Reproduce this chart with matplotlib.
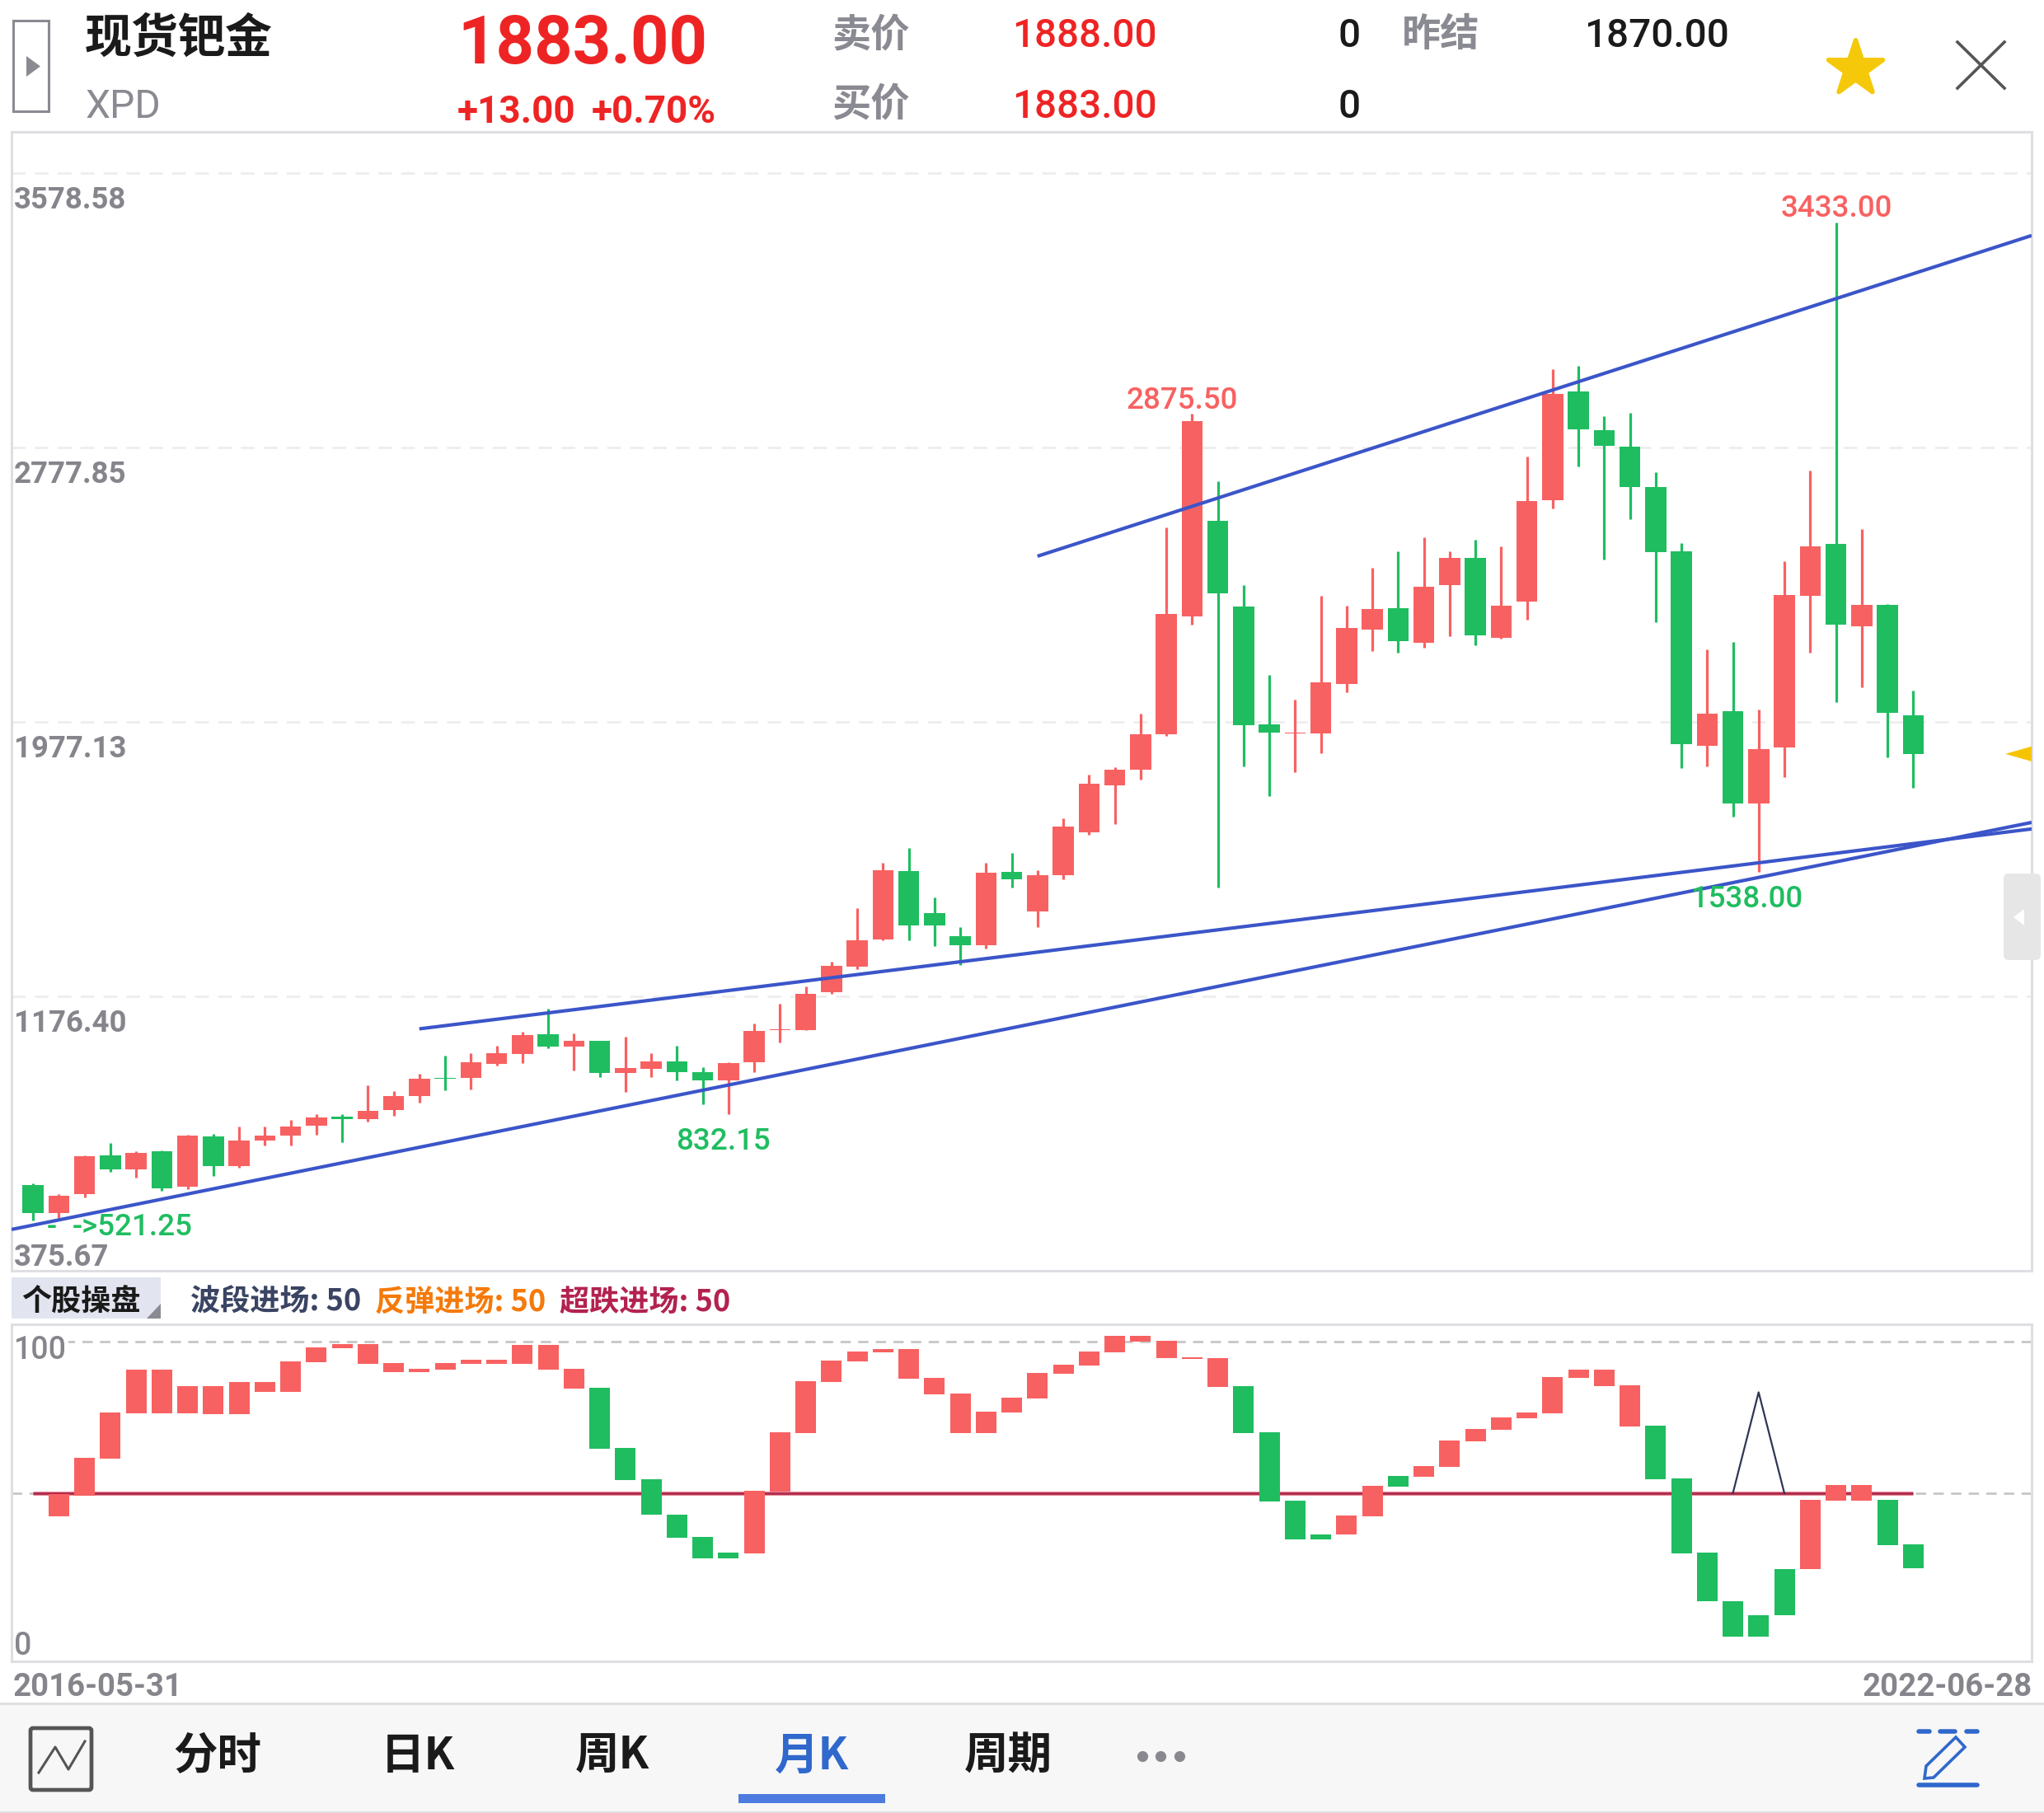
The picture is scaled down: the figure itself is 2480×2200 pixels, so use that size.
import matplotlib
matplotlib.use("Agg")
import matplotlib.pyplot as plt
from matplotlib.patches import Rectangle, Polygon, FancyBboxPatch

plt.rcParams['font.family'] = ['Noto Sans CJK SC', 'DejaVu Sans']

# monthly candles, 2016-05 .. 2022-06
opens = [625, 544, 597, 711, 670, 723, 619, 766, 679, 754, 768, 797, 825, 817, 844, 884, 938, 937, 978, 1007,
         1064, 1028, 1046, 952, 964, 985, 953, 929, 983, 1076, 1077, 1187, 1262, 1342, 1541, 1418, 1351, 1324, 1539, 1422,
         1530, 1653, 1791, 1838, 1940, 2284, 2563, 2312, 1970, 1942, 1942, 2088, 2246, 2309, 2207, 2376, 2455, 2222, 2328, 2623,
         2941, 2829, 2780, 2662, 2475, 1906, 2007, 1738, 1902, 2345, 2496, 2256, 2317, 1995]
closes = [543, 594, 708, 670, 718, 616, 768, 679, 754, 768, 795, 823, 817, 840, 884, 934, 935, 983, 1009, 1062,
          1028, 1045, 952, 965, 986, 953, 929, 980, 1074, 1079, 1182, 1265, 1340, 1544, 1382, 1382, 1324, 1536, 1517, 1529,
          1672, 1795, 1838, 1940, 2291, 2854, 2352, 1967, 1945, 1946, 2091, 2251, 2306, 2211, 2372, 2455, 2230, 2315, 2621, 2934,
          2831, 2781, 2661, 2473, 1911, 2001, 1738, 1898, 2346, 2489, 2260, 2317, 2003, 1883]
highs = [629, 599, 712, 747, 724, 725, 772, 773, 795, 795, 814, 831, 831, 916, 898, 949, 1002, 1009, 1031, 1072,
         1139, 1067, 1046, 1058, 1009, 1031, 968, 984, 1096, 1154, 1204, 1277, 1433, 1566, 1609, 1463, 1378, 1564, 1594, 1544,
         1694, 1822, 1843, 2000, 2545, 2875.5, 2679, 2375, 2113, 2041, 2344, 2315, 2427, 2475, 2515, 2475, 2507, 2488, 2752, 3007,
         3016, 2868, 2879, 2706, 2498, 2189, 2209, 2013, 2446, 2710, 3433, 2539, 2321, 2069]
lows = [521.25, 528, 588, 664, 646, 608, 612, 651, 676, 739, 739, 771, 749, 809, 826, 865, 901, 903, 973, 980,
        1023, 959, 940, 896, 940, 929, 860, 832.15, 953, 1040, 1076, 1183, 1256, 1339, 1339, 1321, 1268, 1314, 1493, 1377,
        1517, 1648, 1678, 1809, 1935, 2261, 1493, 1846, 1760, 1830, 1886, 2064, 2184, 2178, 2193, 2227, 2200, 2219, 2275, 2600,
        2722, 2451, 2567, 2268, 1841, 1847, 1700, 1538, 1815, 2178, 2034, 2078, 1873, 1785]

price_ticks = [3578.58, 2777.85, 1977.13, 1176.40]
price_labels = ['3578.58', '2777.85', '1977.13', '1176.40']
price_bottom = 375.67
last_price = 1883.00

# hand drawn trend lines: (start candle, start price, end candle, end price)
trend_x = [[-0.83, 77.6], [15.0, 77.6], [39.0, 77.6]]
trend_y = [[495, 1683], [1080.5, 1664], [2460, 3396]]

# lower panel, starts at the second candle
sub_top = [49.6, 61.6, 76.6, 90.7, 90.7, 85.3, 85.3, 86.6, 86.6, 93.4, 98, 99.1, 99.1, 92.9, 91, 92.9, 93.9, 93.9, 98.8, 98.8,
           91, 84.7, 64.9, 54.6, 42.9, 35.6, 30.5, 50.8, 70.1, 86.9, 93.7, 96.7, 97.5, 97.5, 88, 82.8, 76.9, 81.5, 89.6, 92.3,
           96.7, 101.8, 101.8, 100.2, 94.8, 94.5, 85.3, 70.1, 47.6, 36.4, 42.7, 52.4, 55.7, 59, 67.4, 71.2, 75, 76.6, 88.2, 90.7,
           90.7, 85.5, 72.2, 54.9, 30.5, 14.5, 9.9, 25, 47.8, 52.7, 52.7, 47.8, 33.2]
sub_bottom = [42.4, 49.3, 61.5, 76.4, 76.4, 76.4, 76.1, 76.1, 83.5, 83.5, 93.2, 97.7, 92.7, 90, 90, 90.7, 92.7, 92.7, 92.7, 90.7,
              84.5, 64.7, 54.3, 42.8, 35.4, 28.4, 28.4, 30.3, 50.5, 69.9, 86.7, 93.5, 96.5, 87.8, 82.5, 69.9, 69.9, 76.7, 81.3, 89.4,
              92.1, 96.5, 99.9, 94.6, 94.2, 85, 69.9, 47.4, 34.9, 34.9, 36.3, 42.5, 52.3, 55.5, 58.8, 67.1, 71, 74.8, 76.4, 88.1,
              85.4, 72.1, 54.7, 30.3, 14.3, 2.6, 2.6, 9.7, 24.9, 47.6, 47.6, 33, 25.4]
sub_dir = 'R' * 21 + 'G' * 6 + 'R' * 19 + 'G' * 4 + 'RR' + 'G' + 'R' * 9 + 'G' * 6 + 'RRR' + 'GG'
sub_mid = 50
spike_x = [66, 67, 68]
spike_y = [50, 83.3, 50]

tabs = ['分时', '日K', '周K', '月K', '周期']

RED = '#f86161'
GREEN = '#1fbd60'
BLUE = '#3b55c9'
GREY = '#85858c'
FRAME = '#dedee3'
QUOTE_RED = '#ee2424'
INK = '#1a1a1a'
W, H = 2480, 2200


def axes_px(left, top, right, bottom):
    return fig.add_axes([left / W, 1 - bottom / H, (right - left) / W, (bottom - top) / H])


def style_frame(ax):
    ax.set_xticks([])
    ax.set_yticks([])
    for s in ax.spines.values():
        s.set_color(FRAME)
        s.set_linewidth(2.2)


def txt(x, y, s, size, color, weight='normal', ha='left', num=False, **kw):
    if num:
        kw['family'] = ['Roboto', 'Noto Sans CJK SC']
    over.text(x, y, s, fontsize=size, color=color, fontweight=weight, ha=ha, va='baseline', **kw)


fig = plt.figure(figsize=(W / 100, H / 100), dpi=100, facecolor='white')

# price panel
ax = axes_px(14, 160, 2465, 1541.5)
style_frame(ax)
ax.set_xlim(-0.832, 77.6)
ax.set_ylim(price_bottom, 3698.6)
ax.hlines(price_ticks, -0.832, 77.6, color='#eeeeee', lw=2, linestyle=(0, (6, 4)), zorder=1)
for i in range(len(opens)):
    c = RED if closes[i] >= opens[i] else GREEN
    ax.vlines(i, lows[i], highs[i], color=c, lw=2.3, zorder=2)
    ax.bar(i, abs(closes[i] - opens[i]), bottom=min(opens[i], closes[i]), width=0.816, color=c, linewidth=0, zorder=3)
for tx, ty in zip(trend_x, trend_y):
    ax.plot(tx, ty, color=BLUE, lw=3, solid_capstyle='butt', zorder=4)
for p, lab in zip(price_ticks, price_labels):
    ax.annotate(lab, xy=(0, p), xycoords=('axes fraction', 'data'), xytext=(2, -31), textcoords='offset points',
                fontsize=26.4, color=GREY, fontweight='bold', va='baseline', family=['Roboto', 'Noto Sans CJK SC'])
ax.annotate('375.67', xy=(0, price_bottom), xycoords=('axes fraction', 'data'), xytext=(2, 4), textcoords='offset points',
            fontsize=26.4, color=GREY, fontweight='bold', va='baseline', family=['Roboto', 'Noto Sans CJK SC'])
# current price marker at the right edge
ax.add_patch(Polygon([(76.58, last_price), (77.6, last_price + 22), (77.6, last_price - 22)], closed=True,
                     facecolor='#f5c400', edgecolor='none', zorder=5))

# lower panel
sub = axes_px(14, 1607, 2465, 2016)
style_frame(sub)
sub.set_xlim(-0.832, 77.6)
sub.set_ylim(-5.43, 105.7)
sub.hlines([100, sub_mid], -0.832, 77.6, color='#c6c6c6', lw=2, linestyle=(0, (4.5, 3.2)), zorder=1)
sub.plot([0, 73], [sub_mid, sub_mid], color='#e58a9c', lw=3.6, solid_capstyle='butt', zorder=2)
sub.plot([0, 73], [sub_mid, sub_mid], color='#b02a4a', lw=2, solid_capstyle='butt', zorder=2)
sub.plot(spike_x, spike_y, color='#2f3654', lw=1.6, zorder=2)
for i, (t, b, d) in enumerate(zip(sub_top, sub_bottom, sub_dir), start=1):
    sub.bar(i, t - b, bottom=b, width=0.8, color=RED if d == 'R' else GREEN, linewidth=0, zorder=3)

# everything else is pixel placed on a full figure layer
over = fig.add_axes([0, 0, 1, 1], zorder=10)
over.set_xlim(0, W)
over.set_ylim(H, 0)
over.axis('off')

# header
over.add_patch(Rectangle((16, 25), 43, 110, facecolor='white', edgecolor='#8a8a92', lw=2.2))
over.add_patch(Polygon([(32, 68), (49, 80.5), (32, 93)], closed=True, facecolor='#8a8a92', edgecolor='none'))
txt(103, 64, '现货钯金', 41, INK, 'bold')
txt(104, 143, 'XPD', 34.5, '#8a8a92', num=True)
txt(555, 77, '1883.00', 58.5, QUOTE_RED, 'bold', num=True)
txt(555, 149, '+13.00', 33, QUOTE_RED, 'bold', num=True)
txt(718, 149, '+0.70%', 33, QUOTE_RED, 'bold', num=True)
txt(1009, 56, '卖价', 34, '#8a8a92', 'bold')
txt(1009, 141, '买价', 34, '#8a8a92', 'bold')
txt(1228, 57, '1888.00', 34.3, QUOTE_RED, 'medium', num=True)
txt(1228, 143, '1883.00', 34.3, QUOTE_RED, 'medium', num=True)
txt(1624, 57, '0', 34.3, INK, 'medium', num=True)
txt(1624, 143, '0', 34.3, INK, 'medium', num=True)
txt(1701, 56, '昨结', 34, '#8a8a92', 'bold')
txt(1922, 57, '1870.00', 34.3, INK, 'medium', num=True)
over.scatter([2251], [82.5], marker='*', s=2500, color='#f5c90a', edgecolors='#f5c90a', linewidths=4,
             joinstyle='round', clip_on=False)
over.plot([2375, 2432], [51, 107], color='#555555', lw=2.6)
over.plot([2375, 2432], [107, 51], color='#555555', lw=2.6)

# labels of the extremes
txt(1367, 496, '2875.50', 26.5, RED, 'medium', num=True)
txt(2161, 263, '3433.00', 26.5, RED, 'medium', num=True)
txt(820, 1395, '832.15', 26.5, GREEN, 'medium', num=True)
txt(2052, 1101, '1538.00', 26.5, GREEN, 'medium', num=True)
txt(57, 1499, '-', 26.5, GREEN, 'medium', num=True)
txt(88, 1499, '->521.25', 26.5, GREEN, 'medium', num=True)

# side collapse tab
over.add_patch(FancyBboxPatch((2431, 1060), 45, 105, boxstyle='round,pad=0,rounding_size=6', facecolor='#e6e6e6',
                              edgecolor='none', clip_path=Rectangle((2425, 1055), 40, 120, transform=over.transData)))
over.add_patch(Polygon([(2443, 1113), (2456, 1103), (2456, 1123)], closed=True, facecolor='white', edgecolor='none'))

# indicator header
over.add_patch(Rectangle((14, 1550), 181, 50, facecolor='#e2e5ef', edgecolor='none'))
over.add_patch(Polygon([(178, 1600), (195, 1582), (195, 1600)], closed=True, facecolor='#8a8a92', edgecolor='none'))
txt(26, 1591, '个股操盘', 26, INK, 'bold')
txt(231, 1591, '波段进场: 50', 26, '#3a4463', 'bold')
txt(455, 1591, '反弹进场: 50', 26, '#f57a0a', 'bold')
txt(679, 1591, '超跌进场: 50', 26, '#b3224f', 'bold')

txt(17, 1649, '100', 27, GREY, 'medium', num=True, bbox=dict(facecolor='white', edgecolor='none', pad=1))
txt(17, 2008, '0', 27, GREY, 'medium', num=True)
txt(16, 2058, '2016-05-31', 27.6, GREY, 'bold', num=True)
txt(2466, 2058, '2022-06-28', 27.6, GREY, 'bold', ha='right', num=True)

# bottom toolbar
over.add_patch(Rectangle((0, 2067), W, 131, facecolor='#f7f7f7', edgecolor='none'))
over.plot([0, W], [2067, 2067], color='#dfdfdf', lw=2.2)
over.plot([0, W], [2199, 2199], color='#dfdfdf', lw=2.2)
over.add_patch(FancyBboxPatch((37, 2097), 74, 75, boxstyle='round,pad=0,rounding_size=3', facecolor='none',
                              edgecolor='#555555', lw=3.4))
over.plot([47, 67, 83, 103], [2151, 2120, 2147, 2113], color='#555555', lw=2.2)
tab_x = [210, 462, 698, 940, 1170]
for x, t in zip(tab_x, tabs):
    txt(x, 2147, t, 38.5, '#3068cc' if t == '月K' else INK, 'bold')
over.add_patch(Rectangle((896, 2177), 178, 11, facecolor='#4d7be0', edgecolor='none'))
over.scatter([1386, 1408, 1431], [2131, 2131, 2131], s=90, color='#88888e', linewidths=0)
for x0, x1 in [(2328, 2341), (2354, 2372), (2386, 2399)]:
    over.plot([x0, x1], [2101, 2101], color='#3068cc', lw=4, solid_capstyle='round')
over.plot([2328, 2399], [2166, 2166], color='#3068cc', lw=4, solid_capstyle='round')
over.add_patch(Polygon([(2373, 2108), (2384, 2120), (2346, 2157), (2335, 2158), (2337, 2143)], closed=True,
                       facecolor='none', edgecolor='#3068cc', lw=2.6))

fig.savefig('out.png', dpi=100)
plt.close(fig)
